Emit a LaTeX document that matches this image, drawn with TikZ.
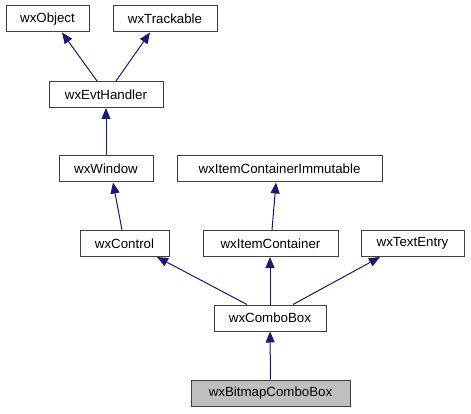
\documentclass[tikz,border=0pt]{standalone}
\usepackage{fontspec}
\setmainfont{Liberation Sans}
\usetikzlibrary{arrows.meta}
\definecolor{edgeblue}{HTML}{191970}
\definecolor{boxgray}{HTML}{BFBFBF}
\tikzset{
  classbox/.style={draw=black!75,line width=1pt,fill=white,minimum height=26pt,inner sep=0pt,
    font=\fontsize{13.3}{16}\selectfont},
  thisbox/.style={classbox,fill=boxgray},
  inherit/.style={draw=edgeblue,line width=1pt,-{Triangle[length=11pt,width=9pt,fill=edgeblue]}}
}
\begin{document}
\begin{tikzpicture}[x=1pt,y=-1pt]
    \useasboundingbox (0,0) rectangle (471,414);

    % The top classes
    \node[classbox,minimum width=83pt] (object) at (47.5,19) {wxObject};
    \node[classbox,minimum width=104pt] (trackable) at (165,19) {wxTrackable};
    \node[classbox,minimum width=114pt] (evthandler) at (106,94.5) {wxEvtHandler};

    % The middle classes
    \node[classbox,minimum width=94pt] (window) at (106,169) {wxWindow};
    \node[classbox,minimum width=205pt] (immutable) at (279.5,169) {wxItemContainerImmutable};
    \node[classbox,minimum width=89pt] (control) at (124.5,243.5) {wxControl};
    \node[classbox,minimum width=135pt] (itemcontainer) at (270.5,243.5) {wxItemContainer};
    \node[classbox,minimum width=103pt] (textentry) at (412.5,243.5) {wxTextEntry};

    % The combo boxes
    \node[classbox,minimum width=112pt] (combobox) at (270,318) {wxComboBox};
    \node[thisbox,minimum width=159pt] (bitmapcombo) at (270.5,393) {wxBitmapComboBox};

    % The inheritance arrows
    \draw[inherit] ([xshift=-9pt]evthandler.north) -- ([xshift=14.5pt]object.south);
    \draw[inherit] ([xshift=10pt]evthandler.north) -- ([xshift=-15pt]trackable.south);
    \draw[inherit] (window) -- (evthandler);
    \draw[inherit] ([xshift=-2.5pt]control.north) -- ([xshift=7pt]window.south);
    \draw[inherit] ([xshift=1.5pt]itemcontainer.north) -- ([xshift=-3.5pt]immutable.south);
    \draw[inherit] ([xshift=-23pt]combobox.north) -- ([xshift=32.5pt]control.south);
    \draw[inherit] (combobox.north) -- (combobox.north |- itemcontainer.south);
    \draw[inherit] ([xshift=23pt]combobox.north) -- ([xshift=-32.5pt]textentry.south);
    \draw[inherit] (bitmapcombo) -- (combobox);
  \end{tikzpicture}
\end{document}
